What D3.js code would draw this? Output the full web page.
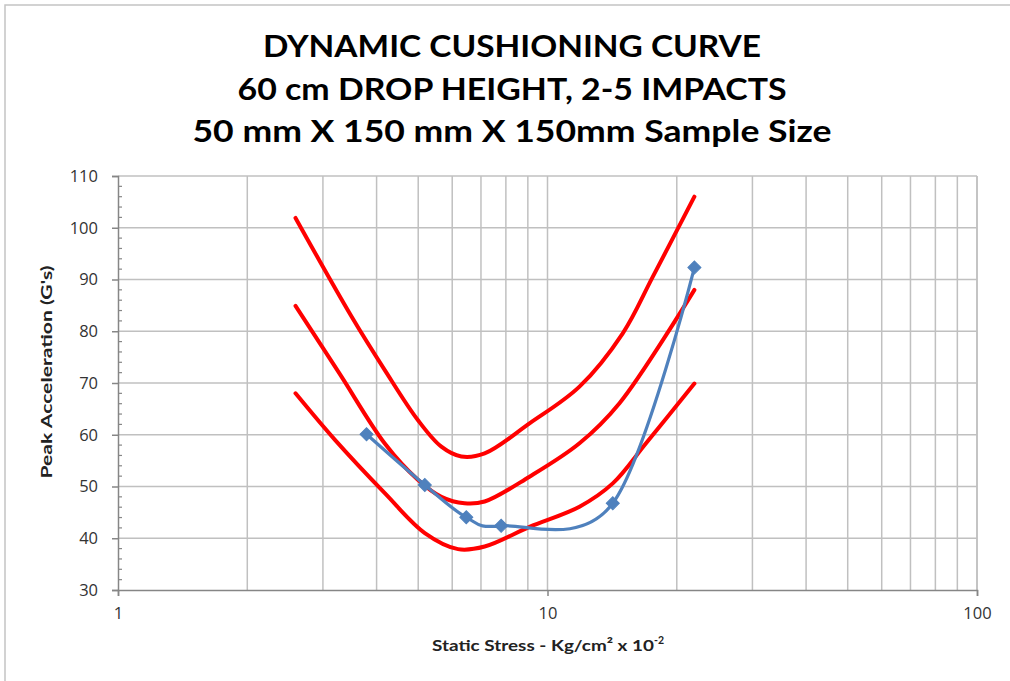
<!DOCTYPE html>
<html>
<head>
<meta charset="utf-8">
<script src="https://cdn.jsdelivr.net/npm/d3@7"></script>
<style>
  html, body { margin: 0; padding: 0; background: #fff; }
  svg { display: block; }
</style>
</head>
<body>
<svg id="chart" width="1010" height="681"></svg>
<script>
// ---------------- DATA ----------------
const titleLines = [
  "DYNAMIC CUSHIONING CURVE",
  "60 cm DROP HEIGHT, 2-5 IMPACTS",
  "50 mm X 150 mm X 150mm Sample Size"
];
const yAxisTitle = "Peak Acceleration (G's)";
const xTickValues = [1, 10, 100];
const xTickLabels = ["1", "10", "100"];
const yTickValues = [30, 40, 50, 60, 70, 80, 90, 100, 110];

// Measured sample (blue, markers)
const sampleX = [3.79, 5.18, 6.47, 7.80, 14.19, 21.98];
const sampleY = [60.1, 50.3, 44.05, 42.4, 46.75, 92.3];

// Reference curves (red)
const upperX = [2.59, 3.50, 4.18, 4.99, 5.66, 6.30, 7.14, 9.08, 11.87, 14.97, 17.58, 21.98];
const upperY = [101.9, 82.8, 72.5, 62.85, 57.7, 55.8, 56.4, 62.2, 69.3, 79.6, 90.5, 106.0];

const middleX = [2.59, 3.28, 4.18, 4.99, 5.66, 6.41, 7.14, 9.08, 11.87, 14.71, 21.98];
const middleY = [84.9, 71.8, 58.3, 51.3, 48.0, 46.75, 47.1, 51.9, 58.35, 66.1, 88.0];

const lowerX = [2.59, 3.20, 4.18, 5.18, 6.19, 7.14, 9.08, 11.87, 14.19, 16.96, 21.98];
const lowerY = [68.0, 59.0, 48.7, 41.0, 37.9, 38.4, 42.2, 46.1, 50.6, 58.35, 69.9];

// ---------------- DRAW ----------------
const svg = d3.select("#chart");
const W = 1010, H = 681;
const plot = { left: 118, right: 977, top: 176, bottom: 590 };

const x = d3.scaleLog().base(10).domain([1, 100]).range([plot.left, plot.right]);
const y = d3.scaleLinear().domain([30, 110]).range([plot.bottom, plot.top]);

// outer border
svg.append("rect")
  .attr("x", 5).attr("y", 5)
  .attr("width", W + 20).attr("height", H + 20)
  .attr("fill", "#fff").attr("stroke", "#c4c4c4").attr("stroke-width", 1.5);

// title
const titleFont = "Lato, 'Open Sans', sans-serif";
const titleWidths = [498, 549, 639];
const titleBaselines = [57, 100, 142];
titleLines.forEach((t, i) => {
  svg.append("text")
    .attr("x", 512).attr("y", titleBaselines[i])
    .attr("text-anchor", "middle")
    .attr("font-family", titleFont)
    .attr("font-weight", "bold")
    .attr("font-size", 29.5)
    .attr("fill", "#000")
    .attr("textLength", titleWidths[i])
    .attr("lengthAdjust", "spacingAndGlyphs")
    .text(t);
});

// gridlines
const gridColor = "#c0c0c0";
const minorX = [];
[1, 10].forEach(dec => { for (let k = 2; k <= 10; k++) minorX.push(dec * k); });
const vGrid = svg.append("g");
vGrid.selectAll("line").data(minorX.concat([100])).join("line")
  .attr("x1", d => x(d)).attr("x2", d => x(d))
  .attr("y1", plot.top).attr("y2", plot.bottom)
  .attr("stroke", gridColor).attr("stroke-width", 1.5);

const hGrid = svg.append("g");
hGrid.selectAll("line").data(yTickValues.slice(1)).join("line")
  .attr("x1", plot.left).attr("x2", plot.right)
  .attr("y1", d => y(d)).attr("y2", d => y(d))
  .attr("stroke", gridColor).attr("stroke-width", 1.5);

// y axis
const axisColor = "#868686";
const tickFont = "'Open Sans', sans-serif";
const yAxis = d3.axisLeft(y).tickValues(yTickValues).tickSize(6).tickPadding(14).tickFormat(d3.format("d"));
const gy = svg.append("g").attr("transform", `translate(${plot.left},0)`).call(yAxis);
gy.select(".domain").attr("stroke", axisColor).attr("stroke-width", 1.5);
gy.selectAll(".tick line").attr("stroke", axisColor).attr("stroke-width", 1.5);
gy.selectAll(".tick text").attr("font-family", tickFont).attr("font-size", 16.5).attr("fill", "#333");
// minor y ticks (inside)
const minorY = d3.range(30, 110.01, 2).filter(v => v % 10 !== 0);
svg.append("g").selectAll("line").data(minorY).join("line")
  .attr("x1", plot.left).attr("x2", plot.left + 4)
  .attr("y1", d => y(d)).attr("y2", d => y(d))
  .attr("stroke", axisColor).attr("stroke-width", 1.2);

// x axis
const xAxis = d3.axisBottom(x).tickValues(xTickValues).tickSize(6).tickPadding(11)
  .tickFormat((d, i) => xTickLabels[i]);
const gx = svg.append("g").attr("transform", `translate(0,${plot.bottom})`).call(xAxis);
gx.select(".domain").attr("stroke", axisColor).attr("stroke-width", 1.5);
gx.selectAll(".tick line").attr("stroke", axisColor).attr("stroke-width", 1.5);
gx.selectAll(".tick text").attr("font-family", tickFont).attr("font-size", 16.5).attr("fill", "#333");

// axis titles
svg.append("text")
  .attr("transform", `translate(52,372) rotate(-90)`)
  .attr("text-anchor", "middle")
  .attr("font-family", titleFont).attr("font-weight", "bold")
  .attr("font-size", 15).attr("fill", "#222")
  .attr("textLength", 213).attr("lengthAdjust", "spacingAndGlyphs")
  .text(yAxisTitle);

const xt = svg.append("text")
  .attr("x", 548).attr("y", 651)
  .attr("text-anchor", "middle")
  .attr("font-family", titleFont).attr("font-weight", "bold")
  .attr("font-size", 16).attr("fill", "#222");
xt.append("tspan").attr("textLength", 222).attr("lengthAdjust", "spacingAndGlyphs").text("Static Stress - Kg/cm² x 10");
xt.append("tspan").attr("font-size", 10.5).attr("dy", -7).text("-2");

// lines
const toPts = (xs, ys) => xs.map((v, i) => [v, ys[i]]);
const redLine = d3.line().x(d => x(d[0])).y(d => y(d[1])).curve(d3.curveCatmullRom.alpha(0.5));
[toPts(upperX, upperY), toPts(middleX, middleY), toPts(lowerX, lowerY)].forEach(pts => {
  svg.append("path").datum(pts)
    .attr("d", redLine)
    .attr("fill", "none").attr("stroke", "#ff0000").attr("stroke-width", 4)
    .attr("stroke-linecap", "round").attr("stroke-linejoin", "round");
});

const sample = toPts(sampleX, sampleY);
const blueLine = d3.line().x(d => x(d[0])).y(d => y(d[1])).curve(d3.curveCardinal.tension(0));
svg.append("path").datum(sample)
  .attr("d", blueLine)
  .attr("fill", "none").attr("stroke", "#4f81bd").attr("stroke-width", 3.2)
  .attr("stroke-linecap", "round").attr("stroke-linejoin", "round");

svg.append("g").selectAll("path").data(sample).join("path")
  .attr("d", d3.symbol(d3.symbolSquare, 85))
  .attr("transform", d => `translate(${x(d[0])},${y(d[1])}) rotate(45)`)
  .attr("fill", "#4f81bd").attr("stroke", "#4f81bd").attr("stroke-width", 1);
</script>
</body>
</html>
